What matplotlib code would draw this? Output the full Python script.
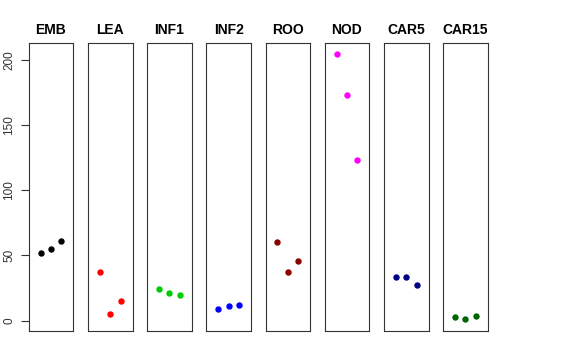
import numpy as np
import matplotlib
matplotlib.use("Agg")
import matplotlib.pyplot as plt

plt.rcParams['font.family'] = ['Liberation Sans', 'DejaVu Sans']

# Datos
tejidos = ["EMB", "LEA", "INF1", "INF2", "ROO", "NOD", "CAR5", "CAR15"]
colores = ["black", "red", "#00CD00", "blue", "#8B0000", "magenta", "#000080", "#006400"]
replica = [1, 2, 3]
emb = [51.5, 54.5, 61.0]
lea = [37.3, 5.4, 15.1]
inf1 = [24.5, 21.4, 19.7]
inf2 = [8.9, 11.0, 12.3]
roo = [60.2, 37.3, 46.0]
nod = [204.5, 173.1, 123.1]
car5 = [33.2, 33.2, 27.6]
car15 = [3.0, 1.0, 3.2]
valores = [emb, lea, inf1, inf2, roo, nod, car5, car15]

W, H = 576, 360
fig = plt.figure(figsize=(W / 100, H / 100), dpi=100)

# Rango común del eje y
ylim = (-8.0, 212.6)

izq0, ancho, paso = 28.7, 44.6, 59.2
arriba, abajo = 43.3, 331.0
for i, (nombre, col, vals) in enumerate(zip(tejidos, colores, valores)):
    izq = izq0 + i * paso
    ax = fig.add_axes([izq / W, (H - abajo) / H, ancho / W, (abajo - arriba) / H])
    ax.plot(replica, vals, 'o', color=col, markersize=4.6, markeredgewidth=0)
    ax.set_xlim(-0.16, 4.16)
    ax.set_ylim(*ylim)
    ax.set_xticks([])
    for s in ax.spines.values():
        s.set_color("#333333")
        s.set_linewidth(0.8)
    ax.set_title(nombre, fontsize=10, fontweight='bold', pad=7)
    if i == 0:
        ax.set_yticks([0, 50, 100, 150, 200])
        ax.tick_params(axis='y', length=5.8, width=0.8, color="#333333",
                       labelsize=8.5, labelcolor="#333333", pad=4)
        plt.setp(ax.get_yticklabels(), rotation=90, va='center')
    else:
        ax.set_yticks([])

fig.savefig("out.png", dpi=100)
